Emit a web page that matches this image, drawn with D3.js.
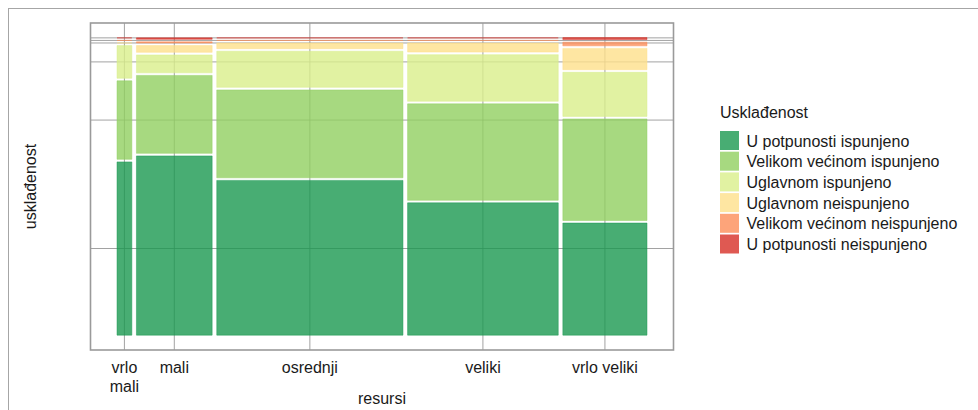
<!DOCTYPE html>
<html>
<head>
<meta charset="utf-8">
<script src="https://cdn.jsdelivr.net/npm/d3@7"></script>
<style>
  body { margin: 0; background: #fff; }
  text { font-family: "Liberation Sans", Arial, sans-serif; fill: #1a1a1a; }
</style>
</head>
<body>
<div id="chart"></div>
<script>
// resursi (x) - udio ispitanika po kategoriji
var resursi = ["vrlo mali", "mali", "osrednji", "veliki", "vrlo veliki"];
var resursiOznake = [["vrlo", "mali"], ["mali"], ["osrednji"], ["veliki"], ["vrlo veliki"]];
var udioResursa = [0.029, 0.148, 0.364, 0.2945, 0.1645];

// uskladenost (y) - udjeli unutar svake kategorije resursa
var uskladenost = ["U potpunosti ispunjeno", "Velikom većinom ispunjeno", "Uglavnom ispunjeno",
                   "Uglavnom neispunjeno", "Velikom većinom neispunjeno", "U potpunosti neispunjeno"];
var uPotpunostiIspunjeno      = [0.609, 0.630, 0.544, 0.465, 0.394];
var velikomVecinomIspunjeno   = [0.276, 0.274, 0.309, 0.339, 0.357];
var uglavnomIspunjeno         = [0.115, 0.063, 0.127, 0.164, 0.155];
var uglavnomNeispunjeno       = [0.000, 0.024, 0.020, 0.032, 0.075];
var velikomVecinomNeispunjeno = [0.000, 0.004, 0.000, 0.000, 0.013];
var uPotpunostiNeispunjeno    = [0.000, 0.005, 0.000, 0.000, 0.007];

var boje = ["#1a9850", "#91cf60", "#d9ef8b", "#fee08b", "#fc8d59", "#d73027"];

function init() {
    var w = 978, h = 410;
    var gap = 0.009; // razmak izmedju pravokutnika

    var serije = [uPotpunostiIspunjeno, velikomVecinomIspunjeno, uglavnomIspunjeno,
                  uglavnomNeispunjeno, velikomVecinomNeispunjeno, uPotpunostiNeispunjeno];

    // raspored mozaika
    var cells = [];
    var xMid = [];
    var x0 = 0;
    resursi.forEach(function (r, j) {
        var y0 = 0;
        serije.forEach(function (s, i) {
            cells.push({ col: j, cat: i, x0: x0, x1: x0 + udioResursa[j], y0: y0, y1: y0 + s[j] });
            y0 += s[j] + gap;
        });
        xMid.push(x0 + udioResursa[j] / 2);
        x0 += udioResursa[j] + gap;
    });
    var xMax = x0 - gap;
    var yMax = 1 + gap * (serije.length - 1);

    // y prijelomi = sredine segmenata prvog stupca
    var yBreaks = cells.filter(function (c) { return c.col == 0; })
        .map(function (c) { return (c.y0 + c.y1) / 2; });

    var left = 90.5, right = 673.5, top = 23, bottom = 350;
    var xScale = d3.scaleLinear().domain([-0.05 * xMax, 1.05 * xMax]).range([left, right]);
    var yScale = d3.scaleLinear().domain([-0.05 * yMax, 1.05 * yMax]).range([bottom, top]);

    var svg = d3.select("#chart").append("svg")
        .attr("width", w)
        .attr("height", h);

    // okvir cijele slike
    svg.append("rect")
        .attr("x", 8.5).attr("y", 8.5)
        .attr("width", 1200).attr("height", 600)
        .attr("fill", "none")
        .attr("stroke", "#a6a6a6")
        .attr("stroke-width", 1);

    // mreza
    svg.append("g").selectAll("line.v")
        .data(xMid).enter().append("line")
        .attr("x1", function (d) { return xScale(d); })
        .attr("x2", function (d) { return xScale(d); })
        .attr("y1", top).attr("y2", bottom)
        .attr("stroke", "#8a8a8a").attr("stroke-width", 0.8);

    svg.append("g").selectAll("line.h")
        .data(yBreaks).enter().append("line")
        .attr("x1", left).attr("x2", right)
        .attr("y1", function (d) { return yScale(d); })
        .attr("y2", function (d) { return yScale(d); })
        .attr("stroke", "#8a8a8a").attr("stroke-width", 0.8);

    // pravokutnici (path da se vide i oni nulte visine)
    svg.append("g").selectAll("path")
        .data(cells).enter().append("path")
        .attr("d", function (c) {
            var a = xScale(c.x0), b = xScale(c.x1), t = yScale(c.y1), u = yScale(c.y0);
            return "M" + a + "," + u + "H" + b + "V" + t + "H" + a + "Z";
        })
        .attr("fill", function (c) { return boje[c.cat]; })
        .attr("fill-opacity", 0.8)
        .attr("stroke", function (c) { return boje[c.cat]; })
        .attr("stroke-opacity", 0.8)
        .attr("stroke-width", 0.6);

    // okvir panela
    svg.append("rect")
        .attr("x", left).attr("y", top)
        .attr("width", right - left).attr("height", bottom - top)
        .attr("fill", "none")
        .attr("stroke", "#9a9a9a")
        .attr("stroke-width", 1.6);

    // oznake x osi
    var lab = svg.append("g").selectAll("text")
        .data(resursiOznake).enter().append("text")
        .attr("x", function (d, j) { return xScale(xMid[j]); })
        .attr("y", 373)
        .attr("text-anchor", "middle")
        .style("font-size", "16px");
    lab.selectAll("tspan")
        .data(function (d) { return d; }).enter().append("tspan")
        .attr("x", function () { return d3.select(this.parentNode).attr("x"); })
        .attr("dy", function (d, i) { return i == 0 ? 0 : 18.5; })
        .text(function (d) { return d; });

    svg.append("text")
        .attr("x", (left + right) / 2).attr("y", 404)
        .attr("text-anchor", "middle")
        .style("font-size", "16px")
        .text("resursi");

    svg.append("text")
        .attr("transform", "translate(36," + (top + bottom) / 2 + ") rotate(-90)")
        .attr("text-anchor", "middle")
        .style("font-size", "16px")
        .text("usklađenost");

    // legenda
    var leg = svg.append("g").attr("transform", "translate(720,0)");
    leg.append("text")
        .attr("x", 0).attr("y", 117.5)
        .style("font-size", "16px")
        .text("Usklađenost");

    var item = leg.selectAll("g.item")
        .data(uskladenost).enter().append("g")
        .attr("transform", function (d, i) { return "translate(0," + (131 + i * 20.7) + ")"; });
    item.append("rect")
        .attr("width", 19).attr("height", 19)
        .attr("fill", function (d, i) { return boje[i]; })
        .attr("fill-opacity", 0.8);
    item.append("text")
        .attr("x", 26.5).attr("y", 15.5)
        .style("font-size", "16px")
        .text(function (d) { return d; });
}

window.onload = init;
</script>
</body>
</html>
